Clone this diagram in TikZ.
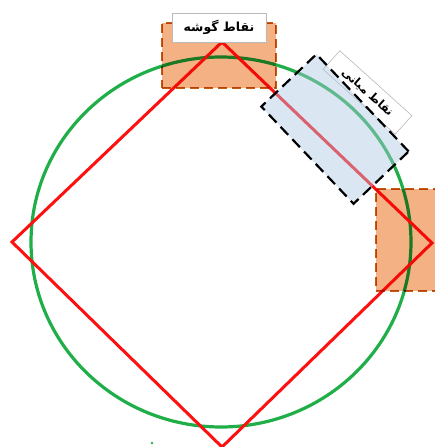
\documentclass[tikz,border=0pt]{standalone}
\usepackage{fontspec}
\newfontfamily\arabicfont[Script=Arabic]{DejaVu Sans}
\TeXXeTstate=1
\definecolor{cgreen}{HTML}{1FAE48}
\definecolor{cred}{HTML}{FF1010}
\definecolor{orfill}{HTML}{F4B183}
\definecolor{ordraw}{HTML}{C55A11}
\definecolor{blfill}{HTML}{ADC8E3}
\begin{document}
\begin{tikzpicture}[x=1pt,y=-1pt,
  circ/.style={draw=cgreen, line width=3.2pt},
  redl/.style={draw=cred, line width=3pt, line join=miter},
  orbox/.style={draw=ordraw, fill=orfill, blend mode=multiply, dash pattern=on 9pt off 5pt, line width=2pt, inner sep=0pt},
  blbox/.style={draw=black, fill=blfill, fill opacity=0.45, draw opacity=1, dash pattern=on 11pt off 6pt, line width=2.2pt, inner sep=0pt},
  lbl/.style={draw=gray!55, fill=white, line width=0.6pt, inner sep=0pt, font=\arabicfont\bfseries\fontsize{12.5}{14}\selectfont}]
\useasboundingbox (0,0) rectangle (435,447);
\draw[circ] (221,242) ellipse [x radius=190, y radius=185];
\draw[redl] (222,42) -- (432,243) -- (222,447) -- (12,242) -- cycle;
\node[orbox, minimum width=114pt, minimum height=65pt] (tl) at (219,55.5) {};
\node[orbox, minimum width=80pt, minimum height=102pt, anchor=north west] (rb) at (375,188) {};
\node[lbl, minimum width=97pt, minimum height=25pt, rotate=-42, font=\arabicfont\bfseries\fontsize{11.5}{13}\selectfont] (l2) at (367.5,92.5) {\beginR نقاط میانی\endR};
\node[blbox, minimum width=134pt, minimum height=76pt, rotate=-46.5] (mid) at (335,129) {};
\node[lbl, minimum width=94pt, minimum height=29pt] (l1) at (219,27.5) {\beginR نقاط گوشه\endR};
\fill[cgreen] (152,443) circle (1.4);
\end{tikzpicture}
\end{document}
